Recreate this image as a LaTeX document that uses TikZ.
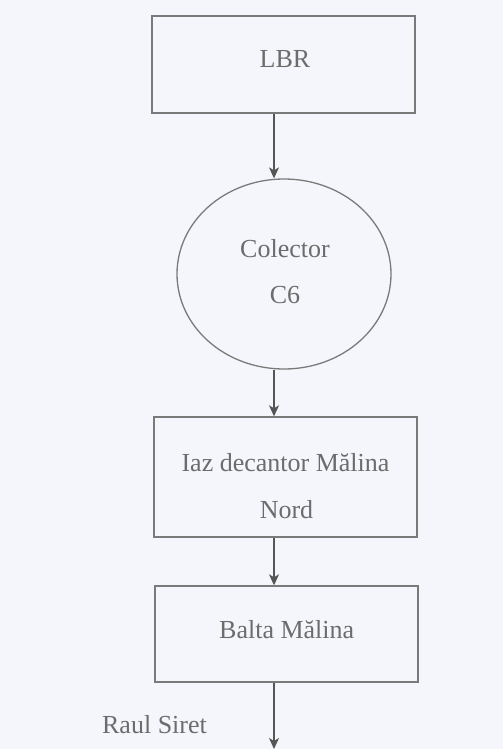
\documentclass[tikz,border=0pt]{standalone}
\usepackage{fontspec}
\setmainfont{Liberation Serif}
\usetikzlibrary{shapes.geometric,arrows.meta}
\definecolor{paper}{HTML}{F4F6FB}
\definecolor{frame}{HTML}{7A7A7A}
\definecolor{flow}{HTML}{555555}
\definecolor{ink}{HTML}{6C6C6C}
\tikzset{
  stagebox/.style={draw=frame, line width=1.4bp, rectangle, inner sep=0pt},
  collector/.style={draw=frame, line width=1.3bp, ellipse, inner sep=0pt},
  caption/.style={text=ink, font=\fontsize{26bp}{30bp}\selectfont, anchor=base, inner sep=0pt},
  flowarrow/.style={draw=flow, line width=1.1bp, -{Stealth[length=11bp,width=10bp,inset=3bp]}}
}
\begin{document}
\begin{tikzpicture}[x=1bp, y=-1bp]
  \fill[paper] (0,0) rectangle (503,749);
  \useasboundingbox (0,0) rectangle (503,749);

  % stages of the flow
  \node[stagebox, minimum width=263bp, minimum height=97bp] (lbr) at (283.5,64.5) {};
  \node[collector, minimum width=214bp, minimum height=190bp] (col) at (284,274) {};
  \node[stagebox, minimum width=263bp, minimum height=120bp] (iaz) at (285.5,477) {};
  \node[stagebox, minimum width=263bp, minimum height=96bp] (balta) at (286.5,634) {};
  \coordinate (out) at (274,749);

  % labels
  \node[caption] (lbrtext) at (285,68) {LBR};
  \node[caption] (coltext) at (285,257) {Colector};
  \node[caption] (c6text) at (285,303) {C6};
  \node[caption] (iaztext) at (285.5,471) {Iaz decantor Mălina};
  \node[caption] (nordtext) at (286.5,518) {Nord};
  \node[caption] (baltatext) at (286.7,638) {Balta Mălina};
  \node[caption] (siret) at (154.5,733) {Raul Siret};

  % connectors
  \draw[flowarrow] (lbr.south -| out) -- (col.north -| out);
  \draw[flowarrow] (col.south -| out) -- (iaz.north -| out);
  \draw[flowarrow] (iaz.south -| out) -- (balta.north -| out);
  \draw[flowarrow] (balta.south -| out) -- (out);
\end{tikzpicture}
\end{document}
